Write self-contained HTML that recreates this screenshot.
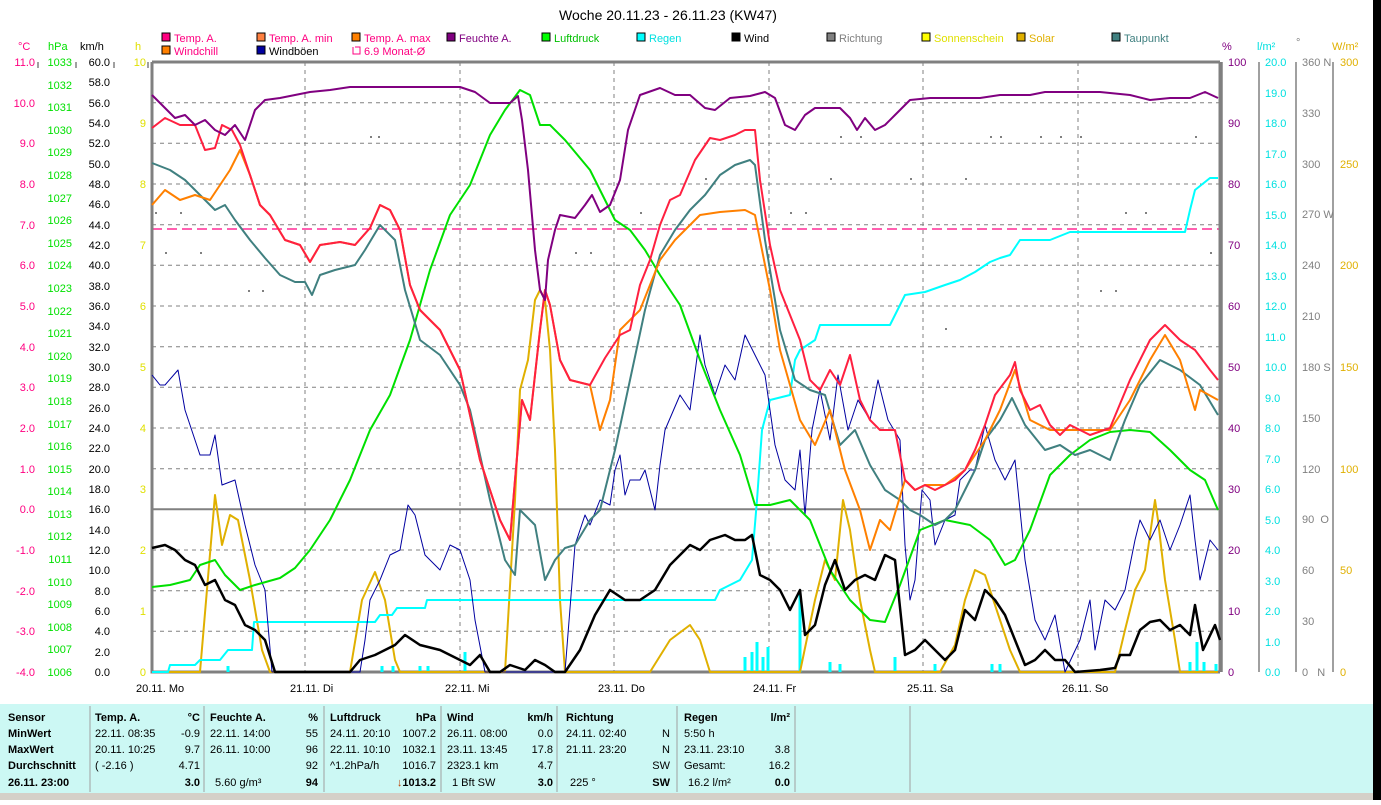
<!DOCTYPE html>
<html><head><meta charset="utf-8"><style>
body{margin:0;width:1381px;height:800px;overflow:hidden;background:#fff;font-family:"Liberation Sans",sans-serif}
svg text{font-family:"Liberation Sans",sans-serif;font-size:11px}
</style></head><body>
<svg width="1381" height="800" xmlns="http://www.w3.org/2000/svg">
<rect x="1373" y="0" width="8" height="800" fill="#000"/>
<text x="668" y="20" text-anchor="middle" style="font-size:14px">Woche 20.11.23 - 26.11.23 (KW47)</text>
<!-- legend -->
<g stroke="#000" stroke-width="1">
<rect x="162" y="33" width="8" height="8" fill="#ff0080"/><rect x="162" y="46" width="8" height="8" fill="#ff8000"/>
<rect x="257" y="33" width="8" height="8" fill="#ff8040"/><rect x="257" y="46" width="8" height="8" fill="#0000a0"/>
<rect x="352" y="33" width="8" height="8" fill="#ff8000"/>
<rect x="447" y="33" width="8" height="8" fill="#800080"/>
<rect x="542" y="33" width="8" height="8" fill="#00ff00"/>
<rect x="637" y="33" width="8" height="8" fill="#00ffff"/>
<rect x="732" y="33" width="8" height="8" fill="#000"/>
<rect x="827" y="33" width="8" height="8" fill="#808080"/>
<rect x="922" y="33" width="8" height="8" fill="#ffff00"/>
<rect x="1017" y="33" width="8" height="8" fill="#e0b000"/>
<rect x="1112" y="33" width="8" height="8" fill="#408080"/>
</g>
<path d="M353 47v7h7v-7h-5" stroke="#ff0080" fill="none"/>
<g style="font-size:11px">
<text x="174" y="42" fill="#ff0080">Temp. A.</text><text x="174" y="55" fill="#ff0080">Windchill</text>
<text x="269" y="42" fill="#ff0080">Temp. A. min</text><text x="269" y="55">Windböen</text>
<text x="364" y="42" fill="#ff0080">Temp. A. max</text><text x="364" y="55" fill="#ff0080">6.9 Monat-Ø</text>
<text x="459" y="42" fill="#800080">Feuchte A.</text>
<text x="554" y="42" fill="#00c000">Luftdruck</text>
<text x="649" y="42" fill="#00e0e0">Regen</text>
<text x="744" y="42">Wind</text>
<text x="839" y="42" fill="#808080">Richtung</text>
<text x="934" y="42" fill="#e0e000">Sonnenschein</text>
<text x="1029" y="42" fill="#e0b000">Solar</text>
<text x="1124" y="42" fill="#408080">Taupunkt</text>
</g>
<!-- units -->
<text x="18" y="50" fill="#ff0080">°C</text><text x="48" y="50" fill="#00e000">hPa</text><text x="80" y="50">km/h</text><text x="135" y="50" fill="#e0e000">h</text>
<text x="1222" y="50" fill="#800080">%</text><text x="1257" y="50" fill="#00e0e0">l/m²</text><text x="1296" y="46" fill="#808080">°</text><text x="1332" y="50" fill="#e0b000">W/m²</text>
<!-- grid -->
<g stroke="#808080" stroke-dasharray="4,4" stroke-width="1">
<path d="M152 102.7H1220M152 143.3H1220M152 184H1220M152 224.7H1220M152 265.3H1220M152 306H1220M152 346.7H1220M152 387.3H1220M152 428H1220M152 468.7H1220M152 550H1220M152 590.7H1220M152 631.3H1220"/>
<path d="M305 62V672M460 62V672M614 62V672M769 62V672M923 62V672M1078 62V672"/>
</g>
<path d="M152 509.3H1220" stroke="#808080" stroke-width="2"/>
<path d="M152 229H1220" stroke="#ff0080" stroke-dasharray="10,5" stroke-width="1.3"/>
<path d="M152 62H1220M152 62V672H1220M1220 62V672" stroke="#808080" stroke-width="3" fill="none"/>
<!-- axis lines -->
<g stroke="#808080" stroke-width="1.5">
<path d="M1222 62V672M1259 62V672M1296 62V672M1333 62V672"/>
<path d="M38 62v6M76 62v6M114 62v6M148 62v6"/>
</g>
<!-- left labels -->
<g fill="#ff0080" text-anchor="end">
<text x="35" y="66">11.0</text><text x="35" y="107">10.0</text><text x="35" y="147">9.0</text><text x="35" y="188">8.0</text><text x="35" y="229">7.0</text><text x="35" y="269">6.0</text><text x="35" y="310">5.0</text><text x="35" y="351">4.0</text><text x="35" y="391">3.0</text><text x="35" y="432">2.0</text><text x="35" y="473">1.0</text><text x="35" y="513">0.0</text><text x="35" y="554">-1.0</text><text x="35" y="595">-2.0</text><text x="35" y="635">-3.0</text><text x="35" y="676">-4.0</text>
</g>
<g fill="#00e000" text-anchor="end">
<text x="72" y="66">1033</text><text x="72" y="89">1032</text><text x="72" y="111">1031</text><text x="72" y="134">1030</text><text x="72" y="156">1029</text><text x="72" y="179">1028</text><text x="72" y="202">1027</text><text x="72" y="224">1026</text><text x="72" y="247">1025</text><text x="72" y="269">1024</text><text x="72" y="292">1023</text><text x="72" y="315">1022</text><text x="72" y="337">1021</text><text x="72" y="360">1020</text><text x="72" y="382">1019</text><text x="72" y="405">1018</text><text x="72" y="428">1017</text><text x="72" y="450">1016</text><text x="72" y="473">1015</text><text x="72" y="495">1014</text><text x="72" y="518">1013</text><text x="72" y="540">1012</text><text x="72" y="563">1011</text><text x="72" y="586">1010</text><text x="72" y="608">1009</text><text x="72" y="631">1008</text><text x="72" y="653">1007</text><text x="72" y="676">1006</text>
</g>
<g fill="#000" text-anchor="end">
<text x="110" y="66">60.0</text><text x="110" y="86">58.0</text><text x="110" y="107">56.0</text><text x="110" y="127">54.0</text><text x="110" y="147">52.0</text><text x="110" y="168">50.0</text><text x="110" y="188">48.0</text><text x="110" y="208">46.0</text><text x="110" y="229">44.0</text><text x="110" y="249">42.0</text><text x="110" y="269">40.0</text><text x="110" y="290">38.0</text><text x="110" y="310">36.0</text><text x="110" y="330">34.0</text><text x="110" y="351">32.0</text><text x="110" y="371">30.0</text><text x="110" y="391">28.0</text><text x="110" y="412">26.0</text><text x="110" y="432">24.0</text><text x="110" y="452">22.0</text><text x="110" y="473">20.0</text><text x="110" y="493">18.0</text><text x="110" y="513">16.0</text><text x="110" y="534">14.0</text><text x="110" y="554">12.0</text><text x="110" y="574">10.0</text><text x="110" y="595">8.0</text><text x="110" y="615">6.0</text><text x="110" y="635">4.0</text><text x="110" y="656">2.0</text><text x="110" y="676">0.0</text>
</g>
<g fill="#e0e000" text-anchor="end">
<text x="146" y="66">10</text><text x="146" y="127">9</text><text x="146" y="188">8</text><text x="146" y="249">7</text><text x="146" y="310">6</text><text x="146" y="371">5</text><text x="146" y="432">4</text><text x="146" y="493">3</text><text x="146" y="554">2</text><text x="146" y="615">1</text><text x="146" y="676">0</text>
</g>
<!-- right labels -->
<g fill="#800080">
<text x="1228" y="66">100</text><text x="1228" y="127">90</text><text x="1228" y="188">80</text><text x="1228" y="249">70</text><text x="1228" y="310">60</text><text x="1228" y="371">50</text><text x="1228" y="432">40</text><text x="1228" y="493">30</text><text x="1228" y="554">20</text><text x="1228" y="615">10</text><text x="1228" y="676">0</text>
</g>
<g fill="#00e0e0">
<text x="1265" y="66">20.0</text><text x="1265" y="97">19.0</text><text x="1265" y="127">18.0</text><text x="1265" y="158">17.0</text><text x="1265" y="188">16.0</text><text x="1265" y="219">15.0</text><text x="1265" y="249">14.0</text><text x="1265" y="280">13.0</text><text x="1265" y="310">12.0</text><text x="1265" y="341">11.0</text><text x="1265" y="371">10.0</text><text x="1265" y="402">9.0</text><text x="1265" y="432">8.0</text><text x="1265" y="463">7.0</text><text x="1265" y="493">6.0</text><text x="1265" y="524">5.0</text><text x="1265" y="554">4.0</text><text x="1265" y="585">3.0</text><text x="1265" y="615">2.0</text><text x="1265" y="646">1.0</text><text x="1265" y="676">0.0</text>
</g>
<g fill="#808080">
<text x="1302" y="66">360 N</text><text x="1302" y="117">330</text><text x="1302" y="168">300</text><text x="1302" y="218">270 W</text><text x="1302" y="269">240</text><text x="1302" y="320">210</text><text x="1302" y="371">180 S</text><text x="1302" y="422">150</text><text x="1302" y="473">120</text><text x="1302" y="523">90&#160;&#160;O</text><text x="1302" y="574">60</text><text x="1302" y="625">30</text><text x="1302" y="676">0&#160;&#160;&#160;N</text>
</g>
<g fill="#e0b000">
<text x="1340" y="66">300</text><text x="1340" y="168">250</text><text x="1340" y="269">200</text><text x="1340" y="371">150</text><text x="1340" y="473">100</text><text x="1340" y="574">50</text><text x="1340" y="676">0</text>
</g>
<!-- x labels -->
<g fill="#000"><text x="136" y="692">20.11. Mo</text><text x="290" y="692">21.11. Di</text><text x="445" y="692">22.11. Mi</text><text x="598" y="692">23.11. Do</text><text x="753" y="692">24.11. Fr</text><text x="907" y="692">25.11. Sa</text><text x="1062" y="692">26.11. So</text></g>
<!-- rain bars -->
<g stroke="#00ffff" stroke-width="3">
<path d="M228 672v-6M382 672v-6M393 672v-6M420 672v-6M428 672v-6M465 672v-20M745 672v-15M752 672v-20M757 672v-30M763 672v-15M768 672v-25M800 672v-80M830 672v-10M840 672v-8M895 672v-15M935 672v-8M992 672v-8M1000 672v-8M1190 672v-10M1197 672v-30M1204 672v-10M1216 672v-8"/>
</g>
<g fill="none" stroke-linejoin="round">
<!-- solar -->
<polyline stroke="#e0b000" stroke-width="2" points="152,672 200,672 215,495 222,545 230,515 238,520 250,580 262,650 270,672 350,672 362,600 375,572 385,600 395,660 400,672 505,672 515,500 520,390 528,360 535,300 540,290 545,300 550,350 555,450 560,600 565,672 650,672 670,640 690,625 700,640 710,672 800,672 815,600 825,560 835,580 843,500 850,530 860,600 870,650 875,672 940,672 955,645 965,600 975,570 985,575 1000,620 1010,650 1020,672 1115,672 1125,630 1135,590 1145,570 1155,500 1158,520 1165,580 1175,640 1180,672 1218,672"/>
<!-- regen -->
<polyline stroke="#00ffff" stroke-width="2" points="152,672 168,672 170,665 195,665 200,660 220,660 228,650 252,650 254,622 375,622 380,615 392,615 397,608 425,608 427,600 715,600 720,590 740,580 752,560 757,500 762,430 770,400 790,395 795,360 800,350 815,340 820,325 890,325 895,315 905,295 925,292 945,285 960,280 975,272 990,262 1000,258 1010,255 1020,240 1050,240 1070,232 1185,232 1190,210 1195,190 1205,182 1210,178 1218,178"/>
<!-- windboeen -->
<polyline stroke="#0000a0" stroke-width="1" points="152,375 160,385 165,385 178,370 185,410 200,455 210,455 215,435 222,485 235,480 245,525 255,565 265,590 272,672 360,672 365,640 370,600 380,580 390,555 400,550 408,505 415,515 425,555 430,560 440,570 450,545 460,550 470,580 475,620 485,672 565,672 575,545 585,515 590,525 600,500 610,505 615,470 620,455 625,495 630,480 640,480 645,470 655,510 660,465 665,430 680,395 690,410 700,335 705,365 715,395 725,365 735,380 745,335 755,355 765,375 775,445 785,480 795,490 800,450 805,515 812,430 820,390 830,440 838,375 848,430 858,400 870,420 878,380 888,420 900,440 905,545 910,600 915,580 922,490 930,500 935,545 945,520 955,515 960,480 970,470 975,470 985,425 995,460 1005,480 1015,460 1025,560 1035,620 1045,640 1055,615 1065,672 1080,640 1090,600 1095,650 1105,600 1115,610 1125,590 1135,540 1140,520 1150,540 1160,520 1170,550 1180,525 1190,495 1195,540 1200,580 1210,540 1218,550"/>
<!-- luftdruck -->
<polyline stroke="#00e000" stroke-width="2" points="152,587 170,585 190,580 200,565 215,560 225,575 240,590 255,585 280,578 295,568 310,550 330,520 350,480 370,430 390,395 410,340 430,270 450,215 470,185 490,135 505,110 520,90 530,95 540,125 550,125 565,140 590,170 615,220 630,230 645,250 660,275 680,305 700,360 720,410 740,455 755,505 770,505 790,500 810,520 830,570 850,600 870,620 885,622 900,585 920,530 945,520 970,525 990,540 1005,565 1015,560 1030,530 1050,475 1070,455 1090,440 1110,432 1130,430 1150,432 1170,450 1190,470 1205,480 1218,510"/>
<!-- taupunkt -->
<polyline stroke="#408080" stroke-width="2" points="152,163 170,170 185,180 200,195 215,210 225,205 235,220 250,240 265,258 280,275 295,282 305,282 312,295 320,275 335,270 355,265 365,250 380,225 395,240 405,290 420,340 440,355 460,385 470,410 490,500 505,560 515,575 520,510 535,525 545,580 555,560 565,548 575,545 590,520 600,510 615,450 630,380 645,310 660,255 675,230 690,210 705,195 720,175 735,165 750,160 755,165 765,240 780,330 795,380 810,390 825,395 840,445 855,430 870,465 885,490 900,500 910,510 920,515 935,525 945,520 955,510 965,490 975,470 985,440 1000,420 1012,398 1025,425 1045,450 1060,445 1075,455 1090,450 1110,460 1125,420 1140,385 1160,360 1180,370 1200,385 1218,415"/>
<!-- temp max -->
<polyline stroke="#ff8000" stroke-width="2" points="152,205 165,190 180,200 195,195 210,200 220,185 230,170 240,150 250,175 260,205 270,215 285,240 300,245 310,262 320,245 340,242 355,245 370,228 380,205 390,210 400,230 410,285 420,310 440,330 460,370 480,460 500,520 510,540 515,480 522,400 530,420 540,330 545,290 550,305 560,360 570,380 590,385 600,430 610,400 620,330 640,310 660,260 675,240 690,225 700,215 720,212 745,210 755,215 770,290 780,350 800,420 815,445 830,410 845,470 860,510 870,550 880,520 890,530 905,480 915,490 925,485 945,485 965,470 985,440 1000,410 1015,370 1030,420 1050,430 1080,430 1110,430 1130,400 1150,360 1165,335 1180,360 1195,410 1200,390 1218,400"/>
<!-- temp -->
<polyline stroke="#ff2040" stroke-width="2" points="152,128 165,118 180,125 195,125 205,150 215,148 222,125 232,130 240,145 250,175 260,205 270,215 285,240 300,245 310,262 320,245 340,242 355,245 370,228 380,205 390,210 400,230 410,285 420,310 440,330 460,370 480,460 500,520 510,540 515,480 522,400 530,420 540,330 545,290 550,305 560,360 570,380 590,385 605,358 620,335 630,330 640,285 650,260 660,225 670,200 680,195 695,160 710,138 720,140 735,135 745,130 755,130 760,180 770,245 780,290 800,340 810,380 820,390 830,370 840,385 850,355 860,400 870,420 880,430 895,430 905,480 915,490 925,485 935,490 945,485 955,480 965,470 975,450 985,425 995,395 1010,375 1015,362 1020,390 1030,410 1040,405 1050,425 1060,435 1070,425 1080,430 1090,435 1110,428 1130,380 1150,340 1165,325 1180,340 1195,350 1210,370 1218,380"/>
<!-- feuchte -->
<polyline stroke="#800080" stroke-width="2" points="152,95 165,108 175,118 185,115 195,125 205,120 215,130 225,135 235,125 245,140 255,110 265,100 280,98 295,95 310,92 330,90 350,87 400,87 460,87 475,92 490,103 510,103 518,96 522,120 528,170 535,250 540,290 545,300 548,260 555,230 560,215 575,218 585,205 592,195 600,212 610,205 620,180 628,130 640,95 660,88 675,95 690,95 705,108 715,110 730,98 750,96 765,92 775,98 785,125 795,130 805,115 815,108 840,108 850,118 857,130 865,118 875,130 885,125 895,115 910,100 930,98 980,98 1000,95 1030,95 1045,92 1100,92 1130,95 1150,100 1170,98 1190,98 1205,92 1218,98"/>
<!-- wind -->
<polyline stroke="#000" stroke-width="2.5" points="152,548 165,545 175,550 185,560 195,565 205,585 215,580 225,600 235,605 245,625 255,630 265,640 275,672 350,672 360,660 375,655 385,650 395,645 405,635 420,645 440,650 460,660 470,665 480,655 490,672 500,672 510,665 525,670 535,660 545,665 555,672 565,672 580,650 595,615 610,590 625,600 640,600 655,590 670,565 680,555 690,545 700,550 710,540 725,535 735,540 745,540 752,535 760,575 770,580 780,590 790,610 800,590 805,635 815,625 825,585 835,560 845,590 855,580 865,575 875,580 885,555 895,560 905,655 915,650 925,640 935,650 945,660 955,650 965,610 975,620 985,590 995,600 1005,615 1015,640 1025,665 1035,660 1045,650 1055,660 1065,660 1075,672 1100,670 1115,668 1120,655 1130,655 1140,630 1150,622 1160,620 1170,630 1180,625 1190,635 1195,605 1203,650 1215,625 1220,640"/>
</g>
<!-- direction dots -->
<g fill="#808080">
<rect x="370" y="136" width="2" height="2"/><rect x="378" y="136" width="2" height="2"/><rect x="165" y="252" width="2" height="2"/><rect x="200" y="252" width="2" height="2"/><rect x="248" y="290" width="2" height="2"/><rect x="262" y="290" width="2" height="2"/><rect x="155" y="212" width="2" height="2"/><rect x="180" y="212" width="2" height="2"/><rect x="575" y="252" width="2" height="2"/><rect x="590" y="252" width="2" height="2"/><rect x="640" y="212" width="2" height="2"/><rect x="705" y="178" width="2" height="2"/><rect x="790" y="212" width="2" height="2"/><rect x="805" y="212" width="2" height="2"/><rect x="840" y="136" width="2" height="2"/><rect x="860" y="136" width="2" height="2"/><rect x="990" y="136" width="2" height="2"/><rect x="1000" y="136" width="2" height="2"/><rect x="1040" y="136" width="2" height="2"/><rect x="1060" y="136" width="2" height="2"/><rect x="1080" y="136" width="2" height="2"/><rect x="1100" y="290" width="2" height="2"/><rect x="1115" y="290" width="2" height="2"/><rect x="1125" y="212" width="2" height="2"/><rect x="1145" y="212" width="2" height="2"/><rect x="965" y="178" width="2" height="2"/><rect x="910" y="178" width="2" height="2"/><rect x="830" y="178" width="2" height="2"/><rect x="945" y="328" width="2" height="2"/><rect x="1195" y="136" width="2" height="2"/><rect x="1210" y="252" width="2" height="2"/>
</g>
<!-- bottom panel -->
<rect x="0" y="704" width="1373" height="90" fill="#ccf8f4"/>
<rect x="0" y="793" width="1373" height="7" fill="#d4d0c8"/>
<g stroke="#a0a0a0"><path d="M90 706V792M204 706V792M324 706V792M441 706V792M557 706V792M677 706V792M795 706V792M910 706V792"/></g>
<g style="font-size:11px">
<g font-weight="bold"><text x="8" y="721">Sensor</text><text x="8" y="737">MinWert</text><text x="8" y="753">MaxWert</text><text x="8" y="769">Durchschnitt</text><text x="8" y="786">26.11. 23:00</text>
<text x="95" y="721">Temp. A.</text><text x="200" y="721" text-anchor="end">°C</text>
<text x="210" y="721">Feuchte A.</text><text x="318" y="721" text-anchor="end">%</text>
<text x="330" y="721">Luftdruck</text><text x="436" y="721" text-anchor="end">hPa</text>
<text x="447" y="721">Wind</text><text x="553" y="721" text-anchor="end">km/h</text>
<text x="566" y="721">Richtung</text>
<text x="684" y="721">Regen</text><text x="790" y="721" text-anchor="end">l/m²</text>
<text x="200" y="786" text-anchor="end">3.0</text><text x="318" y="786" text-anchor="end">94</text><text x="436" y="786" text-anchor="end"><tspan fill="#c04000">↓</tspan>1013.2</text><text x="553" y="786" text-anchor="end">3.0</text><text x="670" y="786" text-anchor="end">SW</text><text x="790" y="786" text-anchor="end">0.0</text></g>
<text x="95" y="737">22.11. 08:35</text><text x="200" y="737" text-anchor="end">-0.9</text>
<text x="95" y="753">20.11. 10:25</text><text x="200" y="753" text-anchor="end">9.7</text>
<text x="95" y="769">( -2.16 )</text><text x="200" y="769" text-anchor="end">4.71</text>
<text x="210" y="737">22.11. 14:00</text><text x="318" y="737" text-anchor="end">55</text>
<text x="210" y="753">26.11. 10:00</text><text x="318" y="753" text-anchor="end">96</text>
<text x="318" y="769" text-anchor="end">92</text><text x="215" y="786">5.60 g/m³</text>
<text x="330" y="737">24.11. 20:10</text><text x="436" y="737" text-anchor="end">1007.2</text>
<text x="330" y="753">22.11. 10:10</text><text x="436" y="753" text-anchor="end">1032.1</text>
<text x="330" y="769">^1.2hPa/h</text><text x="436" y="769" text-anchor="end">1016.7</text>
<text x="447" y="737">26.11. 08:00</text><text x="553" y="737" text-anchor="end">0.0</text>
<text x="447" y="753">23.11. 13:45</text><text x="553" y="753" text-anchor="end">17.8</text>
<text x="447" y="769">2323.1 km</text><text x="553" y="769" text-anchor="end">4.7</text>
<text x="452" y="786">1 Bft SW</text>
<text x="566" y="737">24.11. 02:40</text><text x="670" y="737" text-anchor="end">N</text>
<text x="566" y="753">21.11. 23:20</text><text x="670" y="753" text-anchor="end">N</text>
<text x="670" y="769" text-anchor="end">SW</text><text x="570" y="786">225 °</text>
<text x="684" y="737">5:50 h</text>
<text x="684" y="753">23.11. 23:10</text><text x="790" y="753" text-anchor="end">3.8</text>
<text x="684" y="769">Gesamt:</text><text x="790" y="769" text-anchor="end">16.2</text>
<text x="688" y="786">16.2 l/m²</text>
</g>
</svg>
</body></html>
